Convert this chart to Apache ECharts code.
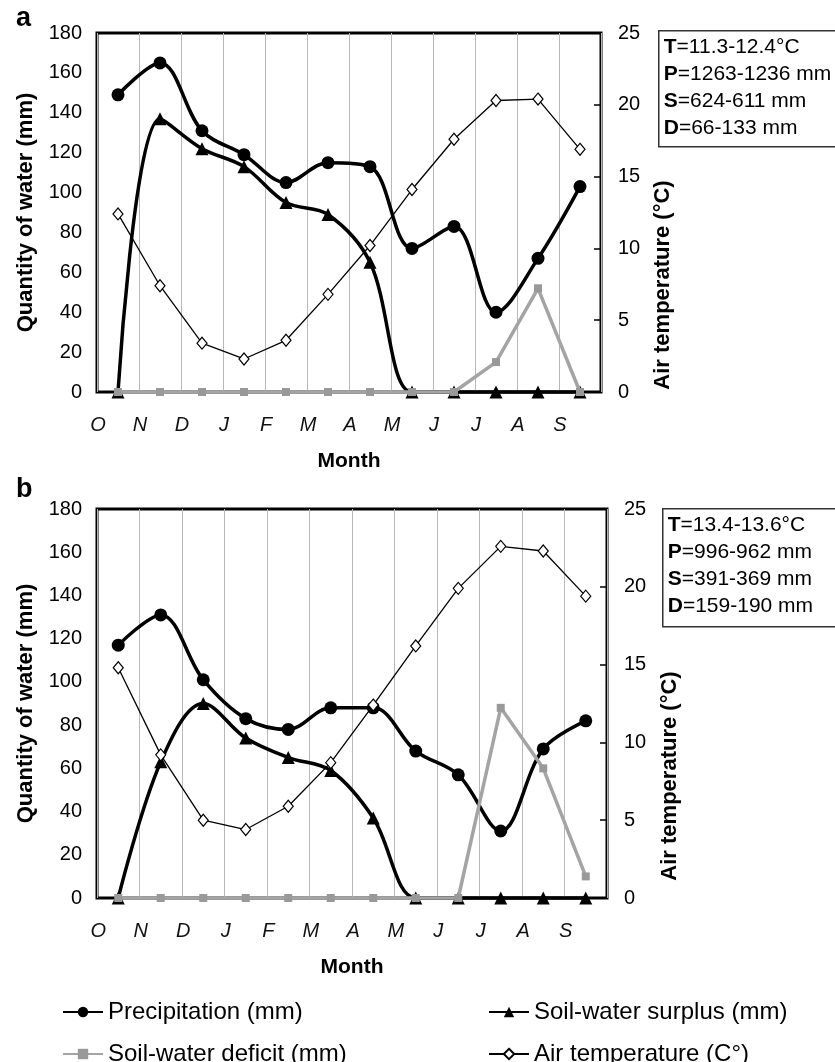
<!DOCTYPE html>
<html>
<head>
<meta charset="utf-8">
<script src="https://cdn.jsdelivr.net/npm/echarts@6/dist/echarts.min.js"></script>
<style>
  html, body { margin: 0; padding: 0; background: #fff; }
  #chart { width: 835px; height: 1062px; }
</style>
</head>
<body>
<div id="chart"></div>
<script>
// months, Oct -> Sep
var months = ['O', 'N', 'D', 'J', 'F', 'M', 'A', 'M', 'J', 'J', 'A', 'S'];

// panel a
var precipA = [149, 165, 131, 119, 105, 115, 113, 72, 83, 40, 67, 103];
var surplusA = [0, 137, 122, 113, 95, 89, 65, 0, 0, 0, 0, 0];
var deficitA = [0, 0, 0, 0, 0, 0, 0, 0, 0, 15, 52, 0];
var tempA = [12.4, 7.4, 3.4, 2.3, 3.6, 6.8, 10.2, 14.1, 17.6, 20.3, 20.4, 16.9];

// panel b
var precipB = [117, 131, 101, 83, 78, 88, 88, 68, 57, 31, 69, 82];
var surplusB = [0, 63, 90, 74, 65, 59, 37, 0, 0, 0, 0, 0];
var deficitB = [0, 0, 0, 0, 0, 0, 0, 0, 0, 88, 60, 10];
var tempB = [14.8, 9.2, 5.0, 4.4, 5.9, 8.7, 12.4, 16.2, 19.9, 22.6, 22.3, 19.4];

var waxTicks = [0, 180, 20];   // min, max, interval of water axis
var taxTicks = [0, 25, 5];     // air temperature axis

var statsA = ['{b|T}=11.3-12.4°C', '{b|P}=1263-1236 mm', '{b|S}=624-611 mm', '{b|D}=66-133 mm'];
var statsB = ['{b|T}=13.4-13.6°C', '{b|P}=996-962 mm', '{b|S}=391-369 mm', '{b|D}=159-190 mm'];

var names = ['Precipitation (mm)', 'Soil-water surplus (mm)', 'Soil-water deficit (mm)', 'Air temperature (C°)'];

var font = "'Liberation Sans', Arial, sans-serif";

function xAxisFor(grid) {
    return {
        type: 'category',
        gridIndex: grid,
        data: months,
        boundaryGap: true,
        axisLine: {show: false},
        axisTick: {show: false},
        splitLine: {show: true, interval: 0, lineStyle: {color: '#b8b8b8', width: 1}},
        axisLabel: {
            interval: 0,
            margin: 23,
            formatter: function (v) { return '{m|' + v + '}'; },
            rich: {
                m: {fontSize: 20, fontStyle: 'italic', color: '#111', fontFamily: font, padding: [0, 40, 0, 0]}
            }
        },
        name: 'Month',
        nameLocation: 'middle',
        nameGap: 59,
        nameTextStyle: {fontSize: 21, fontWeight: 'bold', color: '#000'}
    };
}

function waterAxis(grid) {
    return {
        type: 'value',
        gridIndex: grid,
        min: waxTicks[0], max: waxTicks[1], interval: waxTicks[2],
        axisLine: {show: false},
        axisTick: {show: false},
        splitLine: {show: false},
        axisLabel: {fontSize: 20, color: '#000', margin: 15},
        name: 'Quantity of water (mm)',
        nameLocation: 'middle',
        nameGap: 60,
        nameTextStyle: {fontSize: 22, fontWeight: 'bold', color: '#000'}
    };
}

function tempAxis(grid) {
    return {
        type: 'value',
        gridIndex: grid,
        position: 'right',
        min: taxTicks[0], max: taxTicks[1], interval: taxTicks[2],
        axisLine: {show: false},
        axisTick: {show: true, inside: true, length: 7, lineStyle: {color: '#000', width: 1.5}},
        splitLine: {show: false},
        axisLabel: {fontSize: 20, color: '#000', margin: 17}
    };
}

function seriesFor(xi, yw, yt, precip, surplus, deficit, temp) {
    return [{
        name: names[0], type: 'line', xAxisIndex: xi, yAxisIndex: yw,
        data: precip, smooth: 0.35, clip: false, z: 3,
        symbol: 'circle', symbolSize: 13,
        lineStyle: {color: '#000', width: 3.5},
        itemStyle: {color: '#000'}
    }, {
        name: names[1], type: 'line', xAxisIndex: xi, yAxisIndex: yw,
        data: surplus, smooth: 0.35, clip: false, z: 3,
        symbol: 'triangle', symbolSize: 13,
        lineStyle: {color: '#000', width: 3.5},
        itemStyle: {color: '#000'}
    }, {
        name: names[2], type: 'line', xAxisIndex: xi, yAxisIndex: yw,
        data: deficit, clip: false, z: 4,
        symbol: 'rect', symbolSize: 8,
        lineStyle: {color: '#a4a4a4', width: 3.5},
        itemStyle: {color: '#999'}
    }, {
        name: names[3], type: 'line', xAxisIndex: xi, yAxisIndex: yt,
        data: temp, clip: false, z: 5,
        symbol: 'diamond', symbolSize: [10, 12],
        lineStyle: {color: '#000', width: 1.3},
        itemStyle: {color: '#fff', borderColor: '#000', borderWidth: 1.2}
    }];
}

function statsBox(x, y, h, lines) {
    return {
        type: 'group', left: x, top: y,
        children: [{
            type: 'rect', shape: {x: 0, y: 0, width: 200, height: h},
            style: {fill: '#fff', stroke: '#333', lineWidth: 1.5}
        }, {
            type: 'text', x: 5, y: 3,
            style: {
                text: lines.join('\n'), fontSize: 21, lineHeight: 27, fill: '#000', fontFamily: font,
                rich: {b: {fontWeight: 'bold', fontSize: 21, lineHeight: 27, fontFamily: font}}
            }
        }]
    };
}

function legendItem(name, x, y) {
    return {
        left: x, top: y,
        data: [name],
        itemWidth: 40, itemHeight: 13,
        textStyle: {fontSize: 24, color: '#000'}
    };
}

var chart = echarts.init(document.getElementById('chart'));
chart.setOption({
    animation: false,
    textStyle: {fontFamily: font, color: '#000'},
    grid: [
        {left: 97, top: 33, width: 504, height: 359, show: true, borderColor: '#000', borderWidth: 3, backgroundColor: 'transparent'},
        {left: 97, top: 509, width: 510, height: 389, show: true, borderColor: '#000', borderWidth: 3, backgroundColor: 'transparent'}
    ],
    xAxis: [xAxisFor(0), xAxisFor(1)],
    yAxis: [waterAxis(0), tempAxis(0), waterAxis(1), tempAxis(1)],
    legend: [
        legendItem(names[0], 57, 995),
        legendItem(names[2], 57, 1037),
        legendItem(names[1], 483, 995),
        legendItem(names[3], 483, 1037)
    ],
    graphic: [
        {type: 'text', left: 16, top: 5, style: {text: 'a', fontSize: 27, fontWeight: 'bold', fill: '#000', fontFamily: font}},
        {type: 'text', left: 16, top: 476, style: {text: 'b', fontSize: 27, fontWeight: 'bold', fill: '#000', fontFamily: font}},
        {type: 'text', x: 663, y: 285, rotation: Math.PI / 2,
            style: {text: 'Air temperature (°C)', fontSize: 22, fontWeight: 'bold', fill: '#000', align: 'center', verticalAlign: 'middle', fontFamily: font}},
        {type: 'text', x: 670, y: 776, rotation: Math.PI / 2,
            style: {text: 'Air temperature (°C)', fontSize: 22, fontWeight: 'bold', fill: '#000', align: 'center', verticalAlign: 'middle', fontFamily: font}},
        statsBox(658, 30, 116, statsA),
        statsBox(662, 508, 118, statsB)
    ],
    series: seriesFor(0, 0, 1, precipA, surplusA, deficitA, tempA)
        .concat(seriesFor(1, 2, 3, precipB, surplusB, deficitB, tempB))
});
</script>
</body>
</html>
